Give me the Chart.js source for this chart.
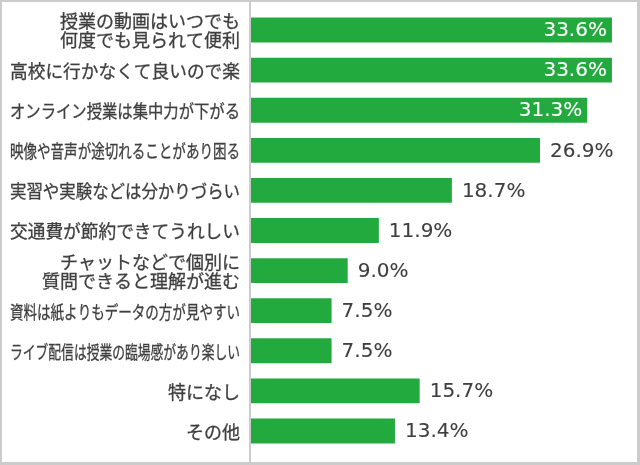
<!DOCTYPE html>
<html>
<head>
<meta charset="utf-8">
<script src="https://cdn.jsdelivr.net/npm/chart.js@4/dist/chart.umd.min.js"></script>
<style>
  html, body { margin: 0; padding: 0; background: #fff; }
  #wrap { width: 640px; height: 465px; }
</style>
</head>
<body>
<div id="wrap"><canvas id="myChart" width="640" height="465"></canvas></div>
<script>
// categories (multi-line where the picture wraps)
const categories = [
  ['授業の動画はいつでも', '何度でも見られて便利'],
  ['高校に行かなくて良いので楽'],
  ['オンライン授業は集中力が下がる'],
  ['映像や音声が途切れることがあり困る'],
  ['実習や実験などは分かりづらい'],
  ['交通費が節約できてうれしい'],
  ['チャットなどで個別に', '質問できると理解が進む'],
  ['資料は紙よりもデータの方が見やすい'],
  ['ライブ配信は授業の臨場感があり楽しい'],
  ['特になし'],
  ['その他']
];
const values = [33.6, 33.6, 31.3, 26.9, 18.7, 11.9, 9.0, 7.5, 7.5, 15.7, 13.4];
const valueLabels = values.map(v => v.toFixed(1) + '%');

const barColor = '#23aa3f';
const textColor = '#3f3f3f';
const lineColor = '#cccccc';

// frame, axis line, category labels and value labels
const decorations = {
  id: 'decorations',
  beforeDraw(chart) {
    const ctx = chart.ctx;
    ctx.save();
    ctx.fillStyle = '#fff';
    ctx.fillRect(0, 0, chart.width, chart.height);
    ctx.restore();
  },
  afterDatasetsDraw(chart) {
    const ctx = chart.ctx;
    const y = chart.scales.y;
    const x = chart.scales.x;
    const W = chart.width, H = chart.height;
    ctx.save();

    // outer frame
    ctx.fillStyle = lineColor;
    ctx.fillRect(0, 0, W, 2);
    ctx.fillRect(0, H - 3, W, 3);
    ctx.fillRect(0, 0, 2, H);
    ctx.fillRect(W - 3, 0, 3, H);

    // axis line
    ctx.fillRect(chart.chartArea.left - 2, 2, 2, H - 5);

    // category labels
    ctx.fillStyle = textColor;
    ctx.strokeStyle = textColor;
    ctx.lineWidth = 0.3;
    ctx.font = '18px "Noto Sans CJK JP", sans-serif';
    ctx.textAlign = 'right';
    ctx.textBaseline = 'middle';
    categories.forEach((lines, i) => {
      const cy = y.getPixelForValue(i);
      const lh = 19;
      lines.forEach((t, j) => {
        const ly = cy + (j - (lines.length - 1) / 2) * lh + 1;
        ctx.fillText(t, chart.chartArea.left - 11, ly, 230);
        ctx.strokeText(t, chart.chartArea.left - 11, ly, 230);
      });
    });

    // value labels
    ctx.font = '20px "DejaVu Sans", sans-serif';
    ctx.lineWidth = 0.1;
    values.forEach((v, i) => {
      const cy = y.getPixelForValue(i) + 1;
      const ex = x.getPixelForValue(v);
      const txt = valueLabels[i];
      const tw = ctx.measureText(txt).width;
      if (ex + 10 + tw > W - 10) {
        ctx.fillStyle = ctx.strokeStyle = '#ffffff';
        ctx.textAlign = 'right';
        ctx.fillText(txt, ex - 5, cy);
        ctx.strokeText(txt, ex - 5, cy);
      } else {
        ctx.fillStyle = ctx.strokeStyle = textColor;
        ctx.textAlign = 'left';
        ctx.fillText(txt, ex + 10, cy);
        ctx.strokeText(txt, ex + 10, cy);
      }
    });
    ctx.restore();
  }
};

new Chart(document.getElementById('myChart').getContext('2d'), {
  type: 'bar',
  data: {
    labels: categories.map(c => c.join('')),
    datasets: [{
      data: values,
      backgroundColor: barColor,
      borderWidth: 0,
      barPercentage: 0.62,
      categoryPercentage: 1
    }]
  },
  options: {
    indexAxis: 'y',
    responsive: false,
    animation: false,
    events: [],
    layout: { padding: { top: 10, bottom: 14, left: 251, right: 13 } },
    scales: {
      x: { display: false, min: 0, max: 35 },
      y: { display: false }
    },
    plugins: {
      legend: { display: false },
      tooltip: { enabled: false }
    }
  },
  plugins: [decorations]
});
</script>
</body>
</html>
